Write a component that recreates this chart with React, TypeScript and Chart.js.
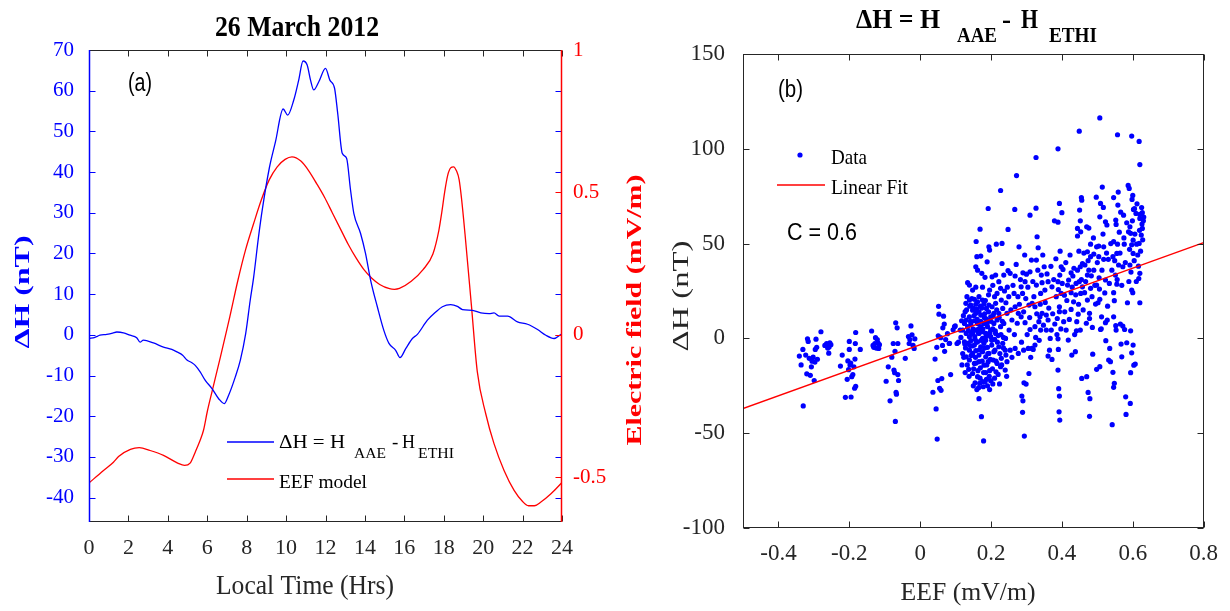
import React, { useEffect, useRef } from "react";
import { Chart, registerables } from "chart.js";
Chart.register(...registerables);

// ---------- Panel (a): 26 March 2012 ----------
const dhTime = [0.0, 0.3, 0.56, 0.9, 1.2, 1.41, 1.75, 2.08, 2.42, 2.59, 2.76, 3.27, 3.78, 4.2, 4.46, 4.75, 4.97, 5.2, 5.39, 5.64, 5.9, 6.24, 6.58, 6.86, 7.08, 7.42, 7.68, 7.95, 8.18, 8.35, 8.6, 8.8, 9.15, 9.46, 9.85, 10.08, 10.39, 10.64, 10.86, 11.07, 11.24, 11.4, 11.66, 12.0, 12.22, 12.46, 12.62, 12.85, 13.07, 13.27, 13.44, 13.78, 14.03, 14.29, 14.63, 14.96, 15.22, 15.56, 15.78, 16.07, 16.41, 16.66, 17.17, 17.59, 17.93, 18.35, 18.69, 18.95, 19.46, 19.88, 20.3, 20.55, 20.81, 21.24, 21.74, 22.25, 22.76, 23.18, 23.6, 23.95];
const dhValues = [-0.9, -0.6, -0.1, 0.1, 0.4, 0.7, 0.5, -0.1, -0.7, -1.8, -1.3, -2.0, -3.0, -3.6, -4.2, -5.0, -6.2, -6.8, -7.5, -9.1, -11.2, -13.2, -15.7, -16.9, -14.9, -10.4, -6.2, 0.3, 8.5, 14, 24, 31, 41, 47.4, 55.5, 54, 57.7, 62.6, 67.3, 66.3, 62.6, 60.2, 62.2, 65.5, 62.6, 60.6, 54.4, 44.6, 43.4, 35.6, 29.8, 24.9, 20, 13.4, 6.9, 1.1, -2.1, -3.8, -5.6, -3.4, -0.9, 0.1, 3.6, 5.6, 6.9, 7.4, 7.0, 6.2, 6.0, 5.4, 5.2, 5.4, 4.6, 4.6, 3.2, 2.6, 1.3, -0.1, -0.9, 0.15];

const eefTime = [0.0, 0.72, 1.24, 1.5, 2.1, 2.55, 3.1, 3.78, 4.5, 4.85, 5.13, 5.4, 5.64, 5.81, 6.0, 6.24, 6.66, 7.0, 7.15, 7.55, 7.95, 8.35, 8.75, 9.15, 9.55, 9.95, 10.3, 10.75, 11.15, 11.55, 11.95, 12.35, 12.75, 13.15, 13.55, 13.95, 14.35, 14.75, 15.25, 15.5, 15.75, 16.35, 16.95, 17.45, 17.75, 17.9, 18.05, 18.2, 18.35, 18.5, 18.65, 18.78, 18.9, 19.08, 19.4, 19.7, 20.13, 20.55, 21.06, 21.57, 22.0, 22.3, 22.6, 22.93, 23.44, 23.95, 24.0];
const eefValues = [-0.52, -0.477, -0.447, -0.427, -0.402, -0.396, -0.406, -0.423, -0.45, -0.458, -0.45, -0.41, -0.37, -0.335, -0.27, -0.2, -0.08, 0.02, 0.065, 0.19, 0.3, 0.39, 0.475, 0.545, 0.59, 0.616, 0.625, 0.61, 0.576, 0.531, 0.483, 0.428, 0.373, 0.318, 0.27, 0.229, 0.199, 0.177, 0.162, 0.16, 0.163, 0.188, 0.229, 0.284, 0.366, 0.43, 0.503, 0.56, 0.586, 0.59, 0.575, 0.545, 0.48, 0.353, 0.106, -0.128, -0.277, -0.382, -0.476, -0.546, -0.585, -0.6, -0.6, -0.587, -0.558, -0.522, -0.518];

const hourTicks = [0, 2, 4, 6, 8, 10, 12, 14, 16, 18, 20, 22, 24];
const dhTicks = [-40, -30, -20, -10, 0, 10, 20, 30, 40, 50, 60, 70];
const eefTicks = [-0.5, 0, 0.5, 1];
const eefTickLabels = ["-0.5", "0", "0.5", "1"];

// ---------- Panel (b): scatter ΔH vs EEF ----------
const eefAxisTicks = [-0.4, -0.2, 0, 0.2, 0.4, 0.6, 0.8];
const eefAxisTickLabels = ["-0.4", "-0.2", "0", "0.2", "0.4", "0.6", "0.8"];
const dhAxisTicks = [-100, -50, 0, 50, 100, 150];
const fitEEF = [-0.5, 0.8];
const fitDH = [-37, 50.5];

const clusterNeg03 = [[-0.341,-9.3],[-0.336,-14.0],[-0.331,-5.8],[-0.330,-35.6],[-0.323,-8.8],[-0.320,-18.7],[-0.318,-0.2],[-0.316,-1.6],[-0.313,-10.5],[-0.310,-19.5],[-0.307,-15.0],[-0.305,-12.0],[-0.302,-9.9],[-0.299,-22.2],[-0.297,-12.5],[-0.296,-5.8],[-0.294,-0.4],[-0.292,-4.7],[-0.290,-11.0],[-0.280,3.5],[-0.269,-3.7],[-0.264,-2.7],[-0.261,-5.1],[-0.258,-7.8],[-0.255,-2.3],[-0.252,-3.3],[-0.257,-4.5]];
const clusterNeg02 = [[-0.225,-14.6],[-0.220,-8.8],[-0.211,-31.1],[-0.206,-21.6],[-0.204,-11.9],[-0.200,-1.6],[-0.200,-5.8],[-0.198,-14.0],[-0.196,-13.0],[-0.195,-30.9],[-0.193,-20.2],[-0.190,-19.1],[-0.187,-15.0],[-0.185,-26.3],[-0.184,-10.9],[-0.183,-2.7],[-0.182,3.1],[-0.182,-25.3],[-0.169,-5.8],[-0.202,-16.5]];
const clusterNeg01 = [[-0.137,3.9],[-0.133,-3.7],[-0.131,-4.7],[-0.128,-2.7],[-0.126,0.4],[-0.124,-5.1],[-0.121,-0.6],[-0.119,-2.3],[-0.117,-5.3],[-0.115,-3.3],[-0.096,-22.6],[-0.090,-15.0],[-0.085,-32.9],[-0.080,-9.9],[-0.076,-2.7],[-0.074,-16.7],[-0.072,-18.1],[-0.071,-6.8],[-0.070,-43.8],[-0.069,8.2],[-0.068,-28.4],[-0.067,-29.4],[-0.065,5.6],[-0.063,-2.7],[-0.063,-19.1],[-0.061,-22.2],[-0.042,-10.5],[-0.033,1.0],[-0.031,-2.7],[-0.029,-0.6],[-0.026,6.6],[-0.023,1.9],[-0.020,-3.7],[-0.017,-5.3],[-0.015,-0.2]];
const clusterNearZero = [[0.036,-28.4],[0.042,-10.9],[0.045,-37.2],[0.047,-4.7],[0.048,-53.1],[0.050,-22.2],[0.051,1.4],[0.052,16.9],[0.053,12.8],[0.055,-26.3],[0.058,0.4],[0.059,-27.4],[0.061,-21.2],[0.063,-3.7],[0.064,5.6],[0.066,11.7],[0.068,7.6],[0.069,-6.8],[0.072,-0.6],[0.077,2.5],[0.082,-2.7],[0.086,-19.1],[0.093,4.5],[0.099,6.6],[0.104,-2.7],[0.083,-2.6],[0.097,6.2],[0.113,4.4],[0.117,9.3],[0.108,-2.0]];
const clusterCore = [[0.139,20.2],[0.143,17.6],[0.153,20.6],[0.162,19.3],[0.166,22.0],[0.176,20.2],[0.180,18.1],[0.187,15.8],[0.194,17.6],[0.203,16.7],[0.213,18.5],[0.208,13.2],[0.199,11.4],[0.185,10.5],[0.171,12.3],[0.157,13.2],[0.148,14.9],[0.139,11.4],[0.130,9.7],[0.125,7.9],[0.134,6.2],[0.143,7.6],[0.153,9.3],[0.162,7.9],[0.171,6.2],[0.180,7.9],[0.190,6.2],[0.199,4.4],[0.208,7.9],[0.217,9.7],[0.227,6.2],[0.213,2.6],[0.199,0.9],[0.185,2.6],[0.176,0.0],[0.166,2.6],[0.157,4.4],[0.148,2.6],[0.139,0.9],[0.130,2.6],[0.120,4.4],[0.115,0.5],[0.125,-1.8],[0.134,-2.6],[0.143,-1.2],[0.153,-3.5],[0.162,-1.8],[0.171,-4.4],[0.180,-2.6],[0.190,-4.7],[0.202,-3.5],[0.211,-6.2],[0.222,-4.4],[0.233,-2.6],[0.240,-6.2],[0.139,-6.2],[0.148,-7.9],[0.157,-6.5],[0.166,-8.8],[0.176,-7.0],[0.185,-9.7],[0.194,-7.9],[0.130,-9.7],[0.139,-11.4],[0.153,-13.2],[0.166,-12.3],[0.180,-14.1],[0.192,-12.3],[0.206,-11.4],[0.217,-13.2],[0.229,-10.5],[0.242,-8.8],[0.137,-16.3],[0.148,-18.5],[0.162,-20.2],[0.176,-22.8],[0.187,-21.6],[0.199,-22.3],[0.155,-23.4],[0.168,-23.7],[0.214,-17.6],[0.227,-14.9],[0.240,-16.7],[0.245,-12.3],[0.166,-31.8],[0.173,-41.3],[0.179,-54.1],[0.129,18.5],[0.127,14.1],[0.134,29.4],[0.139,28.1],[0.148,25.5],[0.157,37.8],[0.162,36.0],[0.174,34.3],[0.183,32.2],[0.160,43.1],[0.171,43.4],[0.158,51.1],[0.169,57.6],[0.189,40.4],[0.196,46.6],[0.194,48.3],[0.192,68.5],[0.196,25.5],[0.203,32.5],[0.213,33.4],[0.222,29.9],[0.227,26.4],[0.217,23.7],[0.229,20.2],[0.233,15.8],[0.222,13.2],[0.245,13.2],[0.236,7.9],[0.231,39.5],[0.236,33.4],[0.215,49.7],[0.231,50.1],[0.227,78.0],[0.242,18.8],[0.250,22.0],[0.248,35.7],[0.248,57.5],[0.251,4.4],[0.254,34.3],[0.145,3.0],[0.155,-0.5],[0.165,5.0],[0.175,3.5],[0.185,-1.0],[0.195,1.8],[0.150,16.0],[0.160,15.5],[0.170,17.0],[0.182,13.0],[0.192,9.5],[0.205,5.0],[0.170,-15.5],[0.158,-13.0],[0.196,-17.0],[0.185,-18.0],[0.141,-3.8],[0.128,-5.0],[0.120,-8.0],[0.210,-0.5],[0.220,1.5],[0.235,0.5],[0.160,-27.0],[0.178,-25.5],[0.190,-25.0],[0.205,-24.0]];
const clusterCoreDense = [[0.122,12],[0.126,-3],[0.131,15],[0.133,-14],[0.136,4],[0.138,-20],[0.140,17],[0.142,9],[0.144,-9],[0.146,21],[0.147,-4],[0.149,5],[0.151,-16],[0.152,12],[0.154,1],[0.156,-10],[0.157,18],[0.159,-2],[0.161,10],[0.163,-17],[0.164,3],[0.166,14],[0.167,-6],[0.169,-21],[0.171,9],[0.172,-1],[0.174,16],[0.175,-12],[0.177,5],[0.179,-18],[0.181,11],[0.182,-5],[0.184,20],[0.186,1],[0.188,-14],[0.189,8],[0.191,-8],[0.193,14],[0.195,-20],[0.197,3],[0.198,-11],[0.200,9],[0.202,-1],[0.204,-16],[0.206,12],[0.208,-7],[0.210,22],[0.212,4],[0.214,-12],[0.216,15],[0.218,-2],[0.220,-19],[0.223,11],[0.225,-8],[0.228,2],[0.230,-14],[0.232,9],[0.235,-5],[0.238,25],[0.241,0],[0.244,-20],[0.246,27],[0.150,-25],[0.165,-26],[0.183,-23],[0.196,-27],[0.210,-21],[0.224,-24],[0.157,27],[0.176,27],[0.193,23],[0.205,28],[0.132,22],[0.123,-10],[0.118,-14],[0.127,-18]];
const clusterMid = [[0.259,9.7],[0.259,-10.0],[0.254,-6.2],[0.265,23.7],[0.268,16.7],[0.268,32.9],[0.268,-5.3],[0.272,85.9],[0.267,68.0],[0.276,22.0],[0.277,13.2],[0.277,-7.9],[0.279,48.3],[0.285,27.2],[0.285,11.4],[0.287,-30.4],[0.289,23.7],[0.289,-39.0],[0.290,34.6],[0.290,-32.9],[0.292,-6.2],[0.293,-23.4],[0.294,-51.5],[0.296,29.9],[0.296,8.3],[0.299,-24.1],[0.300,33.9],[0.305,-5.3],[0.307,17.6],[0.307,-18.5],[0.310,35.1],[0.310,4.7],[0.310,65.0],[0.314,41.3],[0.315,-5.3],[0.316,18.5],[0.319,-5.8],[0.324,16.7],[0.324,6.2],[0.324,-3.5],[0.326,0.5],[0.327,95.4],[0.327,68.7],[0.328,28.1],[0.328,41.3],[0.330,53.6],[0.333,47.8],[0.335,8.8],[0.338,11.4],[0.340,23.7],[0.340,4.4],[0.342,33.4],[0.344,29.4],[0.344,13.2],[0.350,37.8],[0.352,25.5],[0.356,12.3],[0.356,4.4],[0.361,29.9],[0.361,9.7],[0.361,-9.3],[0.365,-6.2],[0.370,4.4],[0.372,27.2],[0.372,-11.1],[0.379,62.0],[0.380,7.6],[0.384,22.0],[0.387,10.5],[0.389,61.3],[0.389,100.0],[0.389,29.9],[0.389,-0.2],[0.389,-16.7],[0.390,25.8],[0.390,-5.8],[0.391,-26.5],[0.392,-38.7],[0.393,71.2],[0.393,16.7],[0.393,14.1],[0.393,-30.4],[0.394,33.4],[0.394,-43.1],[0.398,37.8],[0.398,23.7],[0.400,66.3],[0.403,36.4],[0.405,8.8],[0.407,22.8],[0.412,4.4],[0.416,28.1],[0.418,-0.9],[0.419,30.8],[0.426,34.6],[0.426,24.1],[0.426,15.3],[0.428,-8.8],[0.431,32.9],[0.433,19.3],[0.438,-7.0],[0.440,29.0],[0.441,4.0],[0.442,8.8],[0.444,58.0],[0.444,54.0],[0.444,36.0],[0.446,12.8],[0.449,109.3],[0.449,29.9],[0.450,67.7]];
const clusterMidDense = [[0.256,15],[0.262,28],[0.266,2],[0.271,39],[0.274,8],[0.280,18],[0.283,31],[0.286,-2],[0.292,14],[0.295,44],[0.298,21],[0.302,2],[0.304,27],[0.309,11],[0.312,-10],[0.318,30],[0.321,22],[0.329,13],[0.332,36],[0.336,-1],[0.339,18],[0.346,44],[0.348,7],[0.353,19],[0.358,34],[0.363,16],[0.367,0],[0.369,38],[0.374,13],[0.377,31],[0.383,42],[0.386,2],[0.395,46],[0.397,5],[0.401,29],[0.408,14],[0.411,40],[0.414,20],[0.421,10],[0.423,44],[0.429,27],[0.434,37],[0.436,2],[0.439,23],[0.447,18],[0.448,46]];
const clusterRight = [[0.452,62.0],[0.452,37.8],[0.452,4.4],[0.453,56.2],[0.453,23.7],[0.455,74.3],[0.456,72.9],[0.456,-21.1],[0.458,39.5],[0.458,27.2],[0.464,24.1],[0.465,38.7],[0.470,58.9],[0.470,-20.2],[0.472,45.7],[0.472,33.4],[0.472,20.2],[0.474,-28.5],[0.476,58.2],[0.476,36.0],[0.478,13.2],[0.478,10.5],[0.478,-41.1],[0.479,-31.8],[0.481,49.7],[0.481,43.1],[0.481,26.4],[0.486,5.8],[0.487,-8.3],[0.490,44.5],[0.490,36.0],[0.495,18.1],[0.497,74.5],[0.498,48.3],[0.498,28.1],[0.498,-16.3],[0.502,18.8],[0.504,48.7],[0.504,43.1],[0.505,32.0],[0.507,116.3],[0.507,64.1],[0.507,20.6],[0.507,-14.9],[0.509,71.2],[0.509,4.7],[0.511,5.1],[0.512,11.4],[0.514,79.8],[0.517,69.1],[0.518,48.3],[0.518,41.7],[0.523,61.5],[0.523,30.8],[0.523,8.3],[0.524,-1.2],[0.527,59.8],[0.528,9.7],[0.529,17.0],[0.531,41.7],[0.532,-11.4],[0.535,-5.3],[0.537,-12.3],[0.542,-45.5],[0.544,43.1],[0.544,-17.9],[0.546,74.3],[0.546,51.0],[0.546,24.1],[0.546,11.4],[0.546,-25.8],[0.548,19.9],[0.548,-23.7],[0.551,33.4],[0.552,62.4],[0.552,6.7],[0.553,60.1],[0.553,4.4],[0.555,44.8],[0.555,28.6],[0.557,107.4],[0.557,49.7],[0.558,70.3],[0.559,77.2],[0.560,38.7],[0.565,7.6],[0.566,66.6],[0.567,-3.0],[0.569,-9.7],[0.572,37.8],[0.572,6.5],[0.574,65.0],[0.576,49.7],[0.577,4.7],[0.580,-30.8],[0.581,-40.1],[0.583,-2.3],[0.585,18.8],[0.587,80.7],[0.588,56.2],[0.590,79.1],[0.592,58.9],[0.592,38.7],[0.593,-34.3],[0.594,55.4],[0.594,4.0],[0.594,-18.1],[0.597,106.7],[0.597,49.4],[0.597,25.5],[0.597,-7.6],[0.598,73.3],[0.600,75.4],[0.600,24.1],[0.601,51.8],[0.601,44.8],[0.601,-3.5],[0.602,68.0],[0.603,-14.1],[0.605,68.4],[0.607,-13.5],[0.609,65.9],[0.611,49.7],[0.616,38.1],[0.617,31.6],[0.618,103.9],[0.618,50.1],[0.620,91.7],[0.620,65.4],[0.620,63.3],[0.620,34.3],[0.620,18.8],[0.624,54.5],[0.626,60.3],[0.627,66.3],[0.627,58.0]];
const clusterRightDense = [[0.455,31],[0.460,15],[0.462,45],[0.467,30],[0.469,8],[0.474,41],[0.483,33],[0.485,22],[0.489,53],[0.493,28],[0.500,40],[0.506,26],[0.513,36],[0.516,55],[0.521,24],[0.526,45],[0.534,29],[0.538,50],[0.541,36],[0.549,41],[0.556,31],[0.562,56],[0.564,45],[0.569,28],[0.575,53],[0.579,40],[0.583,61],[0.589,30],[0.591,47],[0.595,35],[0.599,62],[0.604,41],[0.606,55],[0.610,30],[0.612,71],[0.614,44],[0.619,57],[0.622,46],[0.625,69],[0.628,52],[0.630,62],[0.631,64]];

// ---------- helpers ----------
const SERIF = '"Liberation Serif", "Times New Roman", serif';
const SANS = '"Liberation Sans", Arial, sans-serif';
const AXIS_GRAY = "#262626";

function fitText(ctx: CanvasRenderingContext2D, text: string, x: number, y: number, font: string, color: string, width?: number, align: CanvasTextAlign = "left", rot = 0) {
  ctx.save();
  ctx.font = font;
  ctx.fillStyle = color;
  ctx.textBaseline = "alphabetic";
  ctx.textAlign = align;
  const w = ctx.measureText(text).width;
  const sx = width ? width / w : 1;
  ctx.translate(x, y);
  if (rot) ctx.rotate(rot);
  ctx.scale(sx, 1);
  ctx.fillText(text, 0, 0);
  ctx.restore();
}

function seg(ctx: CanvasRenderingContext2D, x1: number, y1: number, x2: number, y2: number, color: string, lw = 1) {
  ctx.save();
  ctx.strokeStyle = color;
  ctx.lineWidth = lw;
  ctx.beginPath();
  ctx.moveTo(x1, y1);
  ctx.lineTo(x2, y2);
  ctx.stroke();
  ctx.restore();
}

const TL = 6;

const framePluginA = {
  id: "frameA",
  afterDraw(chart: any) {
    const { ctx, chartArea, scales } = chart;
    const L = Math.round(chartArea.left) + 0.5;
    const R = Math.round(chartArea.right) - 0.5;
    const T = Math.round(chartArea.top) + 0.5;
    const B = Math.round(chartArea.bottom) - 0.5;
    hourTicks.forEach((v) => {
      const x = Math.round(scales.x.getPixelForValue(v)) + 0.5;
      seg(ctx, x, B, x, B - TL, AXIS_GRAY);
      seg(ctx, x, T, x, T + TL, AXIS_GRAY);
    });
    dhTicks.forEach((v) => {
      const y = Math.round(scales.y.getPixelForValue(v)) + 0.5;
      seg(ctx, L, y, L + TL, y, "#0000ff");
      seg(ctx, R - TL, y, R, y, "#0000ff");
    });
    eefTicks.forEach((v) => {
      const y = Math.round(scales.y2.getPixelForValue(v)) + 0.5;
      seg(ctx, R - TL, y, R, y, "#ff0000");
    });
    seg(ctx, L - 0.5, T, R + 0.5, T, AXIS_GRAY);
    seg(ctx, L - 0.5, B, R + 0.5, B, AXIS_GRAY);
    seg(ctx, L, T - 0.5, L, B + 0.5, "#0000ff", 1.5);
    seg(ctx, R, T - 0.5, R, B + 0.5, "#ff0000", 1.5);

    // titles
    fitText(ctx, "26 March 2012", 297, 36, `bold 30px ${SERIF}`, "#000", 164, "center");
    fitText(ctx, "(a)", 128, 91, `25px ${SANS}`, "#000", 24);
    fitText(ctx, "ΔH (nT)", 29, 292, `bold 22px ${SERIF}`, "#0000ff", 113, "center", -Math.PI / 2);
    fitText(ctx, "Local Time (Hrs)", 305, 594, `28px ${SERIF}`, AXIS_GRAY, 178, "center");
    fitText(ctx, "Electric field (mV/m)", 641, 310, `bold 22px ${SERIF}`, "#ff0000", 271, "center", -Math.PI / 2);

    // legend
    seg(ctx, 227, 442, 274, 442, "#0000ff", 1.3);
    fitText(ctx, "ΔH = H", 279, 448, `19px ${SERIF}`, "#000", 66);
    fitText(ctx, "AAE", 354, 458, `15px ${SERIF}`, "#000", 32);
    fitText(ctx, "-", 392, 448, `19px ${SERIF}`, "#000");
    fitText(ctx, "H", 402, 448, `19px ${SERIF}`, "#000", 13);
    fitText(ctx, "ETHI", 418, 458, `15px ${SERIF}`, "#000", 36);
    seg(ctx, 227, 479, 274, 479, "#ff0000", 1.3);
    fitText(ctx, "EEF model", 279, 488, `19px ${SERIF}`, "#000", 88);
  },
};

const OFFB = 620;
const framePluginB = {
  id: "frameB",
  afterDraw(chart: any) {
    const { ctx, chartArea, scales } = chart;
    const L = Math.round(chartArea.left) + 0.5;
    const R = Math.round(chartArea.right) - 0.5;
    const T = Math.round(chartArea.top) + 0.5;
    const B = Math.round(chartArea.bottom) - 0.5;
    eefAxisTicks.forEach((v) => {
      const x = Math.round(scales.x.getPixelForValue(v)) + 0.5;
      seg(ctx, x, B, x, B - TL, AXIS_GRAY);
      seg(ctx, x, T, x, T + TL, AXIS_GRAY);
    });
    dhAxisTicks.forEach((v) => {
      const y = Math.round(scales.y.getPixelForValue(v)) + 0.5;
      seg(ctx, L, y, L + TL, y, AXIS_GRAY);
      seg(ctx, R - TL, y, R, y, AXIS_GRAY);
    });
    seg(ctx, L - 0.5, T, R + 0.5, T, AXIS_GRAY);
    seg(ctx, L - 0.5, B, R + 0.5, B, AXIS_GRAY);
    seg(ctx, L, T, L, B, AXIS_GRAY);
    seg(ctx, R, T, R, B, AXIS_GRAY);

    ctx.save();
    ctx.translate(-OFFB, 0);
    // title with subscripts
    fitText(ctx, "ΔH = H", 856, 28, `bold 27px ${SERIF}`, "#000", 84);
    fitText(ctx, "AAE", 957, 42, `bold 22px ${SERIF}`, "#000", 40);
    fitText(ctx, "-", 1002, 28, `bold 27px ${SERIF}`, "#000");
    fitText(ctx, "H", 1021, 28, `bold 27px ${SERIF}`, "#000", 17);
    fitText(ctx, "ETHI", 1049, 42, `bold 22px ${SERIF}`, "#000", 48);
    fitText(ctx, "(b)", 778, 97, `23px ${SANS}`, "#000", 25);
    // legend
    ctx.fillStyle = "#0000ff";
    ctx.beginPath();
    ctx.arc(800, 155, 2.6, 0, Math.PI * 2);
    ctx.fill();
    fitText(ctx, "Data", 831, 164, `22px ${SERIF}`, "#000", 36);
    seg(ctx, 777, 185, 825, 185, "#ff0000", 1.3);
    fitText(ctx, "Linear Fit", 831, 193.5, `22px ${SERIF}`, "#000", 77);
    fitText(ctx, "C = 0.6", 787, 239.5, `24px ${SANS}`, "#000", 70);
    fitText(ctx, "ΔH (nT)", 688, 296, `23px ${SERIF}`, AXIS_GRAY, 111, "center", -Math.PI / 2);
    fitText(ctx, "EEF (mV/m)", 968, 600, `25px ${SERIF}`, AXIS_GRAY, 135, "center");
    ctx.restore();
  },
};

const toXY = (xs: number[], ys: number[]) => xs.map((x, i) => ({ x, y: ys[i] }));
const toPts = (arr: number[][]) => arr.map((p) => ({ x: p[0], y: p[1] }));

const noGrid = { display: false, drawTicks: false };

export default function App() {
  const refA = useRef<HTMLCanvasElement>(null);
  const refB = useRef<HTMLCanvasElement>(null);

  useEffect(() => {
    const chartA = new Chart(refA.current as HTMLCanvasElement, {
      type: "line",
      data: {
        datasets: [
          {
            label: "ΔH = H AAE - H ETHI",
            data: toXY(dhTime, dhValues),
            yAxisID: "y",
            borderColor: "#0000ff",
            borderWidth: 1.3,
            pointRadius: 0,
            cubicInterpolationMode: "monotone",
            fill: false,
          },
          {
            label: "EEF model",
            data: toXY(eefTime, eefValues),
            yAxisID: "y2",
            borderColor: "#ff0000",
            borderWidth: 1.3,
            pointRadius: 0,
            cubicInterpolationMode: "monotone",
            fill: false,
          },
        ],
      },
      options: {
        responsive: false,
        animation: false,
        events: [],
        layout: { padding: { top: 50, left: 0, right: 0, bottom: 0 } },
        plugins: { legend: { display: false }, tooltip: { enabled: false }, title: { display: false } },
        scales: {
          x: {
            type: "linear",
            min: 0,
            max: 24,
            grid: noGrid,
            border: { display: false },
            ticks: { font: { family: SERIF, size: 22 }, color: AXIS_GRAY, padding: 13, maxRotation: 0, autoSkip: false },
            afterBuildTicks: (s: any) => { s.ticks = hourTicks.map((v) => ({ value: v })); },
            afterFit: (s: any) => { s.height = 89; },
          },
          y: {
            type: "linear",
            position: "left",
            min: -46,
            max: 70,
            grid: noGrid,
            border: { display: false },
            ticks: { font: { family: SERIF, size: 21 }, color: "#0000ff", padding: 15, autoSkip: false },
            afterBuildTicks: (s: any) => { s.ticks = dhTicks.map((v) => ({ value: v })); },
            afterFit: (s: any) => { s.width = 89; },
          },
          y2: {
            type: "linear",
            position: "right",
            min: -0.657,
            max: 1,
            grid: noGrid,
            border: { display: false },
            ticks: {
              font: { family: SERIF, size: 21 },
              color: "#ff0000",
              padding: 11,
              autoSkip: false,
              callback: (_v: any, i: number) => eefTickLabels[i],
            },
            afterBuildTicks: (s: any) => { s.ticks = eefTicks.map((v) => ({ value: v })); },
            afterFit: (s: any) => { s.width = 138; },
          },
        },
      },
      plugins: [framePluginA],
    } as any);

    const chartB = new Chart(refB.current as HTMLCanvasElement, {
      type: "scatter",
      data: {
        datasets: [
          {
            label: "Linear Fit",
            type: "line",
            data: toXY(fitEEF, fitDH),
            borderColor: "#ff0000",
            borderWidth: 1.3,
            pointRadius: 0,
            fill: false,
          },
          ...[clusterNeg03, clusterNeg02, clusterNeg01, clusterNearZero, clusterCore, clusterCoreDense, clusterMid, clusterMidDense, clusterRight, clusterRightDense].map((c) => ({
            label: "Data",
            data: toPts(c),
            backgroundColor: "#0000ff",
            borderWidth: 0,
            pointRadius: 2.6,
            pointHoverRadius: 2.6,
          })),
        ],
      },
      options: {
        responsive: false,
        animation: false,
        events: [],
        layout: { padding: { top: 54, left: 0, right: 18, bottom: 0 } },
        plugins: { legend: { display: false }, tooltip: { enabled: false }, title: { display: false } },
        scales: {
          x: {
            type: "linear",
            min: -0.5,
            max: 0.8,
            grid: noGrid,
            border: { display: false },
            ticks: {
              font: { family: SERIF, size: 23 },
              color: AXIS_GRAY,
              padding: 12,
              maxRotation: 0,
              autoSkip: false,
              callback: (_v: any, i: number) => eefAxisTickLabels[i],
            },
            afterBuildTicks: (s: any) => { s.ticks = eefAxisTicks.map((v) => ({ value: v })); },
            afterFit: (s: any) => { s.height = 83; },
          },
          y: {
            type: "linear",
            min: -100,
            max: 150,
            grid: noGrid,
            border: { display: false },
            ticks: { font: { family: SERIF, size: 23 }, color: AXIS_GRAY, padding: 18, autoSkip: false },
            afterBuildTicks: (s: any) => { s.ticks = dhAxisTicks.map((v) => ({ value: v })); },
            afterFit: (s: any) => { s.width = 123; },
          },
        },
      },
      plugins: [framePluginB],
    } as any);

    return () => {
      chartA.destroy();
      chartB.destroy();
    };
  }, []);

  return (
    <div style={{ position: "absolute", left: 0, top: 0, width: 1230, height: 611, background: "#fff", overflow: "hidden" }}>
      <canvas ref={refA} width={700} height={611} style={{ position: "absolute", left: 0, top: 0 }} />
      <canvas ref={refB} width={610} height={611} style={{ position: "absolute", left: OFFB, top: 0 }} />
    </div>
  );
}
